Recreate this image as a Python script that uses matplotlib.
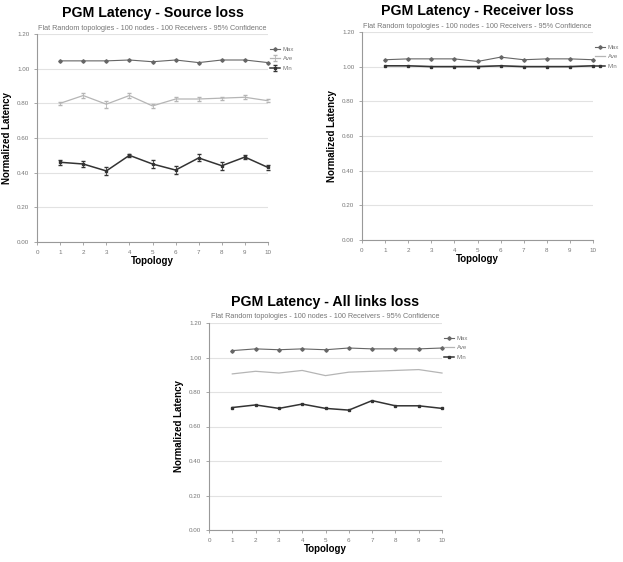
import numpy as np
import matplotlib
matplotlib.use('Agg')
import matplotlib.pyplot as plt

plt.rcParams['font.family'] = ['Liberation Sans', 'DejaVu Sans']

topology = [1, 2, 3, 4, 5, 6, 7, 8, 9, 10]
subtitle = 'Flat Random topologies - 100 nodes - 100 Receivers - 95% Confidence'

# Source loss
src_max = [1.045, 1.045, 1.045, 1.05, 1.04, 1.05, 1.035, 1.05, 1.05, 1.035]
src_ave = [0.80, 0.845, 0.795, 0.845, 0.785, 0.825, 0.825, 0.83, 0.835, 0.815]
src_min = [0.46, 0.45, 0.41, 0.50, 0.45, 0.415, 0.485, 0.44, 0.49, 0.43]
src_ave_err = [0.01, 0.012, 0.02, 0.015, 0.01, 0.012, 0.01, 0.008, 0.012, 0.01]
src_min_err = [0.015, 0.02, 0.025, 0.008, 0.022, 0.025, 0.02, 0.022, 0.012, 0.015]

# Receiver loss
rcv_max = [1.04, 1.045, 1.045, 1.045, 1.03, 1.055, 1.04, 1.045, 1.045, 1.04]
rcv_ave = [1.005, 1.005, 1.002, 1.002, 1.003, 1.005, 1.002, 1.002, 1.002, 1.005]
rcv_min = [1.005, 1.005, 1.0, 1.0, 1.0, 1.005, 1.0, 1.0, 1.0, 1.005]

# All links loss
all_max = [1.04, 1.05, 1.045, 1.05, 1.045, 1.055, 1.05, 1.05, 1.05, 1.055]
all_ave = [0.905, 0.92, 0.91, 0.925, 0.895, 0.915, 0.92, 0.925, 0.93, 0.91]
all_min = [0.71, 0.725, 0.705, 0.73, 0.705, 0.695, 0.75, 0.72, 0.72, 0.705]

W, H = 623, 562
fig = plt.figure(figsize=(W / 100, H / 100), dpi=100)


def panel(x0, y_top, y_bot, w, title, mx, av, mn, av_err=None, mn_err=None):
    h = y_bot - y_top
    ax = fig.add_axes([x0 / W, 1 - y_bot / H, w / W, h / H])
    ax.plot(topology, mx, color='#666666', lw=0.8, marker='D', ms=1.8, label='Max',
            clip_on=False)
    ax.errorbar(topology, av, yerr=av_err, color='#b5b5b5', lw=0.9, capsize=1.5,
                elinewidth=0.6, label='Ave')
    ax.errorbar(topology, mn, yerr=mn_err, color='#333333', lw=1.1, marker='s',
                ms=2.0, capsize=1.5, elinewidth=0.6, label='Min')
    ax.set_xlim(0, 10)
    ax.set_ylim(0, 1.2)
    ax.set_xticks(range(0, 11))
    ax.set_yticks(np.arange(0, 1.21, 0.2))
    ax.set_yticklabels(['%.2f' % v for v in np.arange(0, 1.21, 0.2)])
    ax.grid(axis='y', color='#e2e2e2', lw=0.8)
    ax.set_axisbelow(True)
    for s in ['top', 'right']:
        ax.spines[s].set_visible(False)
    for s in ['left', 'bottom']:
        ax.spines[s].set_color('#999999')
    ax.tick_params(labelsize=4.5, colors='#999999', labelcolor='#777777', length=2, width=0.6)
    ax.set_xlabel('Topology', fontsize=7, fontweight='bold', labelpad=1)
    ax.set_ylabel('Normalized Latency', fontsize=7, fontweight='bold', labelpad=4)
    ax.text(0.5, 1 + 21 / h, title, transform=ax.transAxes, ha='center', va='center',
            fontsize=10.2, fontweight='bold')
    ax.text(0.5, 1 + 6 / h, subtitle, transform=ax.transAxes, ha='center', va='center',
            fontsize=5.2, color='#777777')
    ax.legend(loc='upper left', bbox_to_anchor=(1.0, 0.95), frameon=False,
              fontsize=4.3, handlelength=1.6, handletextpad=0.5, labelspacing=0.7,
              borderaxespad=0, labelcolor='#777777')
    for line in ax.lines:
        line.set_clip_on(False)
    return ax


panel(37, 34, 242, 231, 'PGM Latency - Source loss', src_max, src_ave, src_min,
      src_ave_err, src_min_err)
panel(362, 32, 240, 231, 'PGM Latency - Receiver loss', rcv_max, rcv_ave, rcv_min)
panel(209, 323, 530, 233, 'PGM Latency - All links loss', all_max, all_ave, all_min)

fig.savefig('out.png', dpi=100)
